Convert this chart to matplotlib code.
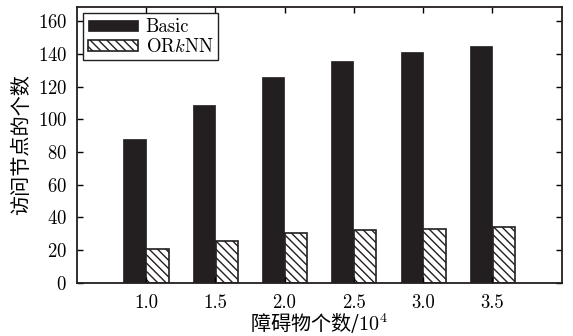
import numpy as np
import matplotlib.pyplot as plt

plt.rcParams['font.family'] = ['cmr10', 'Noto Sans CJK SC']
plt.rcParams['mathtext.fontset'] = 'cm'
plt.rcParams['axes.formatter.use_mathtext'] = True
plt.rcParams['hatch.linewidth'] = 1.0

# data
counts = ['1.0', '1.5', '2.0', '2.5', '3.0', '3.5']
basic = [88, 109, 126, 135.5, 141.5, 145]
orknn = [20.5, 25.5, 30.5, 32, 33, 33.8]

x = np.arange(len(counts))
w = 0.32

fig = plt.figure(figsize=(5.73, 3.36), dpi=100)
ax = fig.add_axes([76.7/573, 1-282.5/336, (561.7-76.7)/573, (282.5-6.7)/336])

ax.bar(x - 0.165, basic, w, color='#231f20', edgecolor='#231f20', linewidth=0.5, label='Basic')
ax.bar(x + 0.165, orknn, w, color='white', edgecolor='#231f20', linewidth=1.2,
       hatch='\\\\\\\\', label='OR$k$NN')

ax.set_xlim(-1, 6)
ax.set_ylim(0, 169)
ax.set_xticks(x)
ax.set_xticklabels(counts)
ax.set_yticks(np.arange(0, 161, 20))
ax.tick_params(direction='in', top=True, right=True, length=4, width=1,
               labelsize=13.5)
ax.tick_params(axis='y', pad=7)
ax.tick_params(axis='x', pad=8)
for s in ax.spines.values():
    s.set_linewidth(1.3)
    s.set_color('#231f20')

ax.set_ylabel('访问节点的个数', family=['Noto Sans CJK SC'], fontsize=14.5, labelpad=4)
ax.set_xlabel('障碍物个数/$10^4$', family=['Noto Sans CJK SC'], fontsize=14.5, labelpad=0)

leg = ax.legend(loc='upper left', fontsize=13.5, fancybox=False, framealpha=1,
                edgecolor='#231f20', handlelength=2.67, handleheight=0.53,
                borderpad=0.25, labelspacing=0.1, handletextpad=0.4,
                borderaxespad=0.35)
leg.get_frame().set_linewidth(1.0)

fig.savefig('out.png', dpi=100)
